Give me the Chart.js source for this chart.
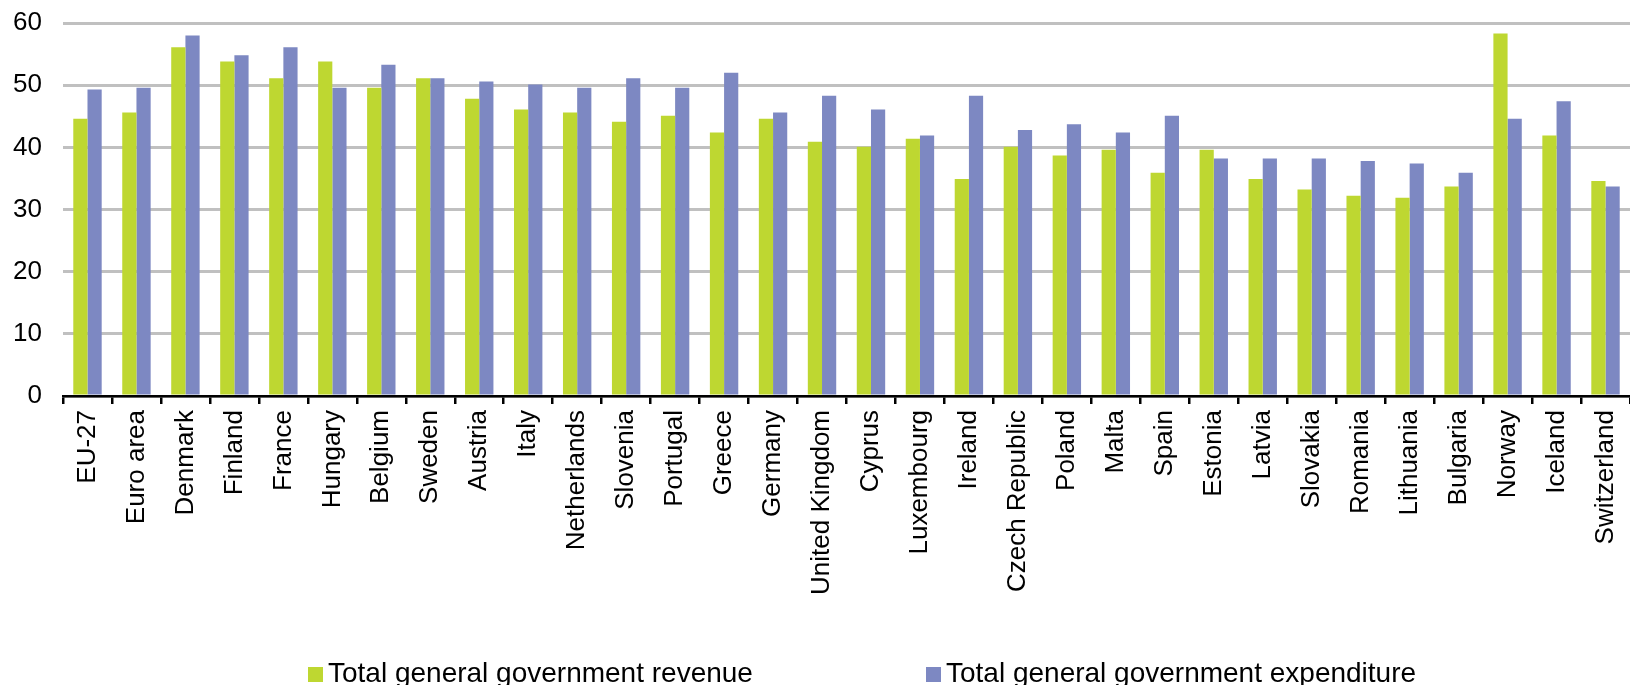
<!DOCTYPE html>
<html>
<head>
<meta charset="utf-8">
<script src="https://cdn.jsdelivr.net/npm/chart.js@4.4.0/dist/chart.umd.min.js"></script>
<style>
  html, body { margin: 0; padding: 0; background: #fff; }
  #wrap { width: 1630px; height: 685px; }
</style>
</head>
<body>
<div id="wrap"><canvas id="govChart"></canvas></div>
<script>
const countries = ['EU-27', 'Euro area', 'Denmark', 'Finland', 'France', 'Hungary', 'Belgium', 'Sweden',
    'Austria', 'Italy', 'Netherlands', 'Slovenia', 'Portugal', 'Greece', 'Germany', 'United Kingdom',
    'Cyprus', 'Luxembourg', 'Ireland', 'Czech Republic', 'Poland', 'Malta', 'Spain', 'Estonia',
    'Latvia', 'Slovakia', 'Romania', 'Lithuania', 'Bulgaria', 'Norway', 'Iceland', 'Switzerland'];

const revenue = [44.6, 45.6, 56.1, 53.8, 51.1, 53.8, 49.6, 51.1, 47.8, 46.1, 45.6, 44.1, 45.1, 42.4, 44.6, 40.9,
    40.1, 41.4, 34.9, 40.1, 38.7, 39.6, 35.9, 39.6, 34.9, 33.2, 32.2, 31.9, 33.7, 58.3, 41.9, 34.6];

const expenditure = [49.3, 49.6, 58.0, 54.8, 56.1, 49.6, 53.3, 51.1, 50.6, 50.1, 49.6, 51.1, 49.6, 52.0, 45.6, 48.3,
    46.1, 41.9, 48.3, 42.8, 43.7, 42.4, 45.1, 38.2, 38.2, 38.2, 37.8, 37.4, 35.9, 44.6, 47.4, 33.7];

const seriesNames = ['Total general government revenue', 'Total general government expenditure'];

const FONT = '"Liberation Sans", Arial, sans-serif';

// legend drawn by hand so the two items can sit far apart like the original
const bottomLegend = {
    id: 'bottomLegend',
    afterDraw(chart, args, opts) {
        const ctx = chart.ctx;
        ctx.save();
        ctx.font = '28px ' + FONT;
        ctx.textBaseline = 'alphabetic';
        ctx.textAlign = 'left';
        chart.data.datasets.forEach((ds, i) => {
            const x = opts.starts[i];
            ctx.fillStyle = ds.backgroundColor;
            ctx.fillRect(x, opts.baseline - 15, 15, 15);
            ctx.fillStyle = '#000';
            ctx.fillText(ds.label, x + 20, opts.baseline);
        });
        ctx.restore();
    }
};

const ctx = document.getElementById('govChart');
new Chart(ctx, {
    type: 'bar',
    data: {
        labels: countries,
        datasets: [{
            label: seriesNames[0],
            data: revenue,
            backgroundColor: '#bed731',
            borderWidth: 0,
            barPercentage: 1.0,
            categoryPercentage: 0.58
        }, {
            label: seriesNames[1],
            data: expenditure,
            backgroundColor: '#7d88c2',
            borderWidth: 0,
            barPercentage: 1.0,
            categoryPercentage: 0.58
        }]
    },
    options: {
        responsive: true,
        maintainAspectRatio: false,
        animation: false,
        layout: {
            padding: { top: 23, right: -6, bottom: 0, left: 0 }
        },
        plugins: {
            legend: { display: false },
            tooltip: { enabled: false },
            bottomLegend: {
                starts: [308, 926],
                baseline: 682
            }
        },
        scales: {
            y: {
                min: 0,
                max: 60,
                ticks: {
                    stepSize: 10,
                    color: '#000',
                    padding: 21,
                    font: { family: FONT, size: 26 }
                },
                grid: {
                    color: '#c0c0c0',
                    lineWidth: 3,
                    drawTicks: false
                },
                border: { display: false },
                afterFit(scale) {
                    scale.width = 63;
                    scale.paddingTop = 0;
                    scale.paddingBottom = 0;
                }
            },
            x: {
                ticks: {
                    color: '#000',
                    minRotation: 90,
                    maxRotation: 90,
                    autoSkip: false,
                    padding: 6,
                    font: { family: FONT, size: 26 }
                },
                grid: {
                    offset: true,
                    drawOnChartArea: false,
                    drawTicks: true,
                    tickLength: 8,
                    color: '#000',
                    lineWidth: 2.5
                },
                border: { display: true, color: '#000', width: 2.5 },
                afterFit(scale) {
                    scale.height = 289;
                    scale.paddingLeft = 0;
                    scale.paddingRight = 0;
                }
            }
        }
    },
    plugins: [bottomLegend]
});
</script>
</body>
</html>
